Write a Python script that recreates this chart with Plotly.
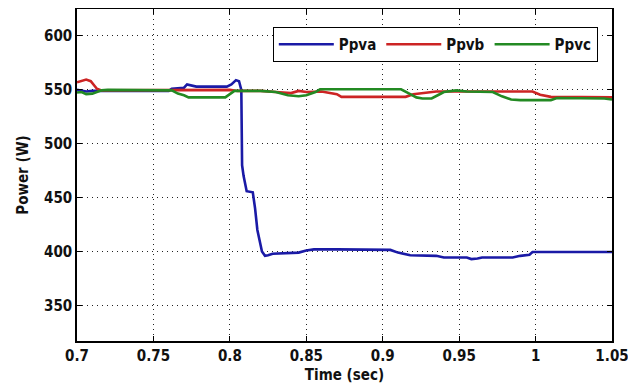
import plotly.graph_objects as go

# Ppva (blue)
t_a = [0.700, 0.703, 0.706, 0.710, 0.715, 0.760, 0.762, 0.770, 0.772, 0.775, 0.778, 0.798, 0.801, 0.804,
       0.806, 0.8075, 0.808, 0.809, 0.811, 0.815, 0.8165, 0.818, 0.821, 0.823, 0.825, 0.828, 0.835, 0.845,
       0.850, 0.855, 0.870, 0.890, 0.905, 0.910, 0.918, 0.935, 0.940, 0.955, 0.958, 0.962, 0.965, 0.985,
       0.990, 0.996, 0.998, 1.050]
p_a = [550, 549, 548.5, 549, 549, 549, 551, 552, 555, 554, 553, 553, 555, 559,
       558, 550, 480, 470, 456, 455, 440, 420, 400, 396, 396.5, 398, 398.5, 399,
       401, 402, 402, 402, 401.5, 399, 396.5, 396, 394.5, 394.5, 393, 393.5, 394.5, 394.5,
       396, 397, 399.5, 399.5]

# Ppvb (red)
t_b = [0.700, 0.703, 0.706, 0.709, 0.711, 0.713, 0.716, 0.760, 0.765, 0.800, 0.805, 0.820, 0.830, 0.840,
       0.845, 0.850, 0.860, 0.870, 0.873, 0.915, 0.920, 0.930, 0.935, 0.950, 0.998, 1.003, 1.010, 1.050]
p_b = [557, 558, 559.5, 558, 555, 551, 549.5, 549.5, 550, 550, 549, 549, 548, 547,
       549, 548, 548.5, 546, 543.5, 543.5, 546, 548, 548.5, 548.5, 548.5, 545.5, 543.5, 543]

# Ppvc (green)
t_c = [0.700, 0.703, 0.706, 0.710, 0.713, 0.716, 0.720, 0.762, 0.766, 0.770, 0.773, 0.797, 0.800, 0.803,
       0.820, 0.830, 0.838, 0.845, 0.850, 0.856, 0.859, 0.912, 0.918, 0.922, 0.926, 0.932, 0.936, 0.940,
       0.948, 0.955, 0.972, 0.978, 0.984, 0.990, 1.010, 1.014, 1.045, 1.050]
p_c = [547.5, 548, 546, 546.5, 548, 549.5, 550, 549.5, 546.5, 545, 543, 543, 546, 549,
       549, 548, 545, 544, 545, 548, 550.5, 550.5, 546, 543, 542, 542, 545, 548,
       549.5, 548.5, 548, 544, 541, 540.5, 540.5, 542.5, 542, 541]

x_ticks = [0.7, 0.75, 0.8, 0.85, 0.9, 0.95, 1.0, 1.05]
x_tick_labels = ["0.7", "0.75", "0.8", "0.85", "0.9", "0.95", "1", "1.05"]
y_ticks = [350, 400, 450, 500, 550, 600]

FONT = "DejaVu Sans Condensed, DejaVu Sans, Liberation Sans Narrow, sans-serif"
TXT = dict(family=FONT, size=15, color="#111111", weight="bold")

fig = go.Figure()
fig.add_trace(go.Scatter(x=t_a, y=p_a, mode="lines", name="Ppva",
                         line=dict(color="#1a1aa6", width=2.6)))
fig.add_trace(go.Scatter(x=t_b, y=p_b, mode="lines", name="Ppvb",
                         line=dict(color="#cc2424", width=2.6)))
fig.add_trace(go.Scatter(x=t_c, y=p_c, mode="lines", name="Ppvc",
                         line=dict(color="#238a23", width=2.6)))

axis_common = dict(
    showline=True, linecolor="black", linewidth=1.5, mirror="ticks",
    ticks="inside", ticklen=5, tickcolor="black", tickwidth=1,
    showgrid=True, gridcolor="#222222", gridwidth=1, griddash="1px,4px",
    zeroline=False, automargin=False,
    tickfont=TXT,
)

fig.update_xaxes(range=[0.7, 1.05], tickvals=x_ticks, ticktext=x_tick_labels,
                 title=dict(text="Time (sec)", font=TXT, standoff=6),
                 **axis_common)
fig.update_yaxes(range=[317, 625], tickvals=y_ticks,
                 title=dict(text="Power (W)", font=TXT, standoff=12),
                 **axis_common)

# the page places the figure 8px from the top-left corner
fig.update_layout(
    width=628, height=380,
    margin=dict(l=69, r=24, t=1, b=47),
    paper_bgcolor="white", plot_bgcolor="white",
    showlegend=True,
    legend=dict(orientation="h", x=0.366, y=0.946, xanchor="left", yanchor="top",
                bgcolor="white", bordercolor="black", borderwidth=1,
                font=TXT, itemwidth=55, tracegroupgap=0),
)

fig.write_html("out.html")
